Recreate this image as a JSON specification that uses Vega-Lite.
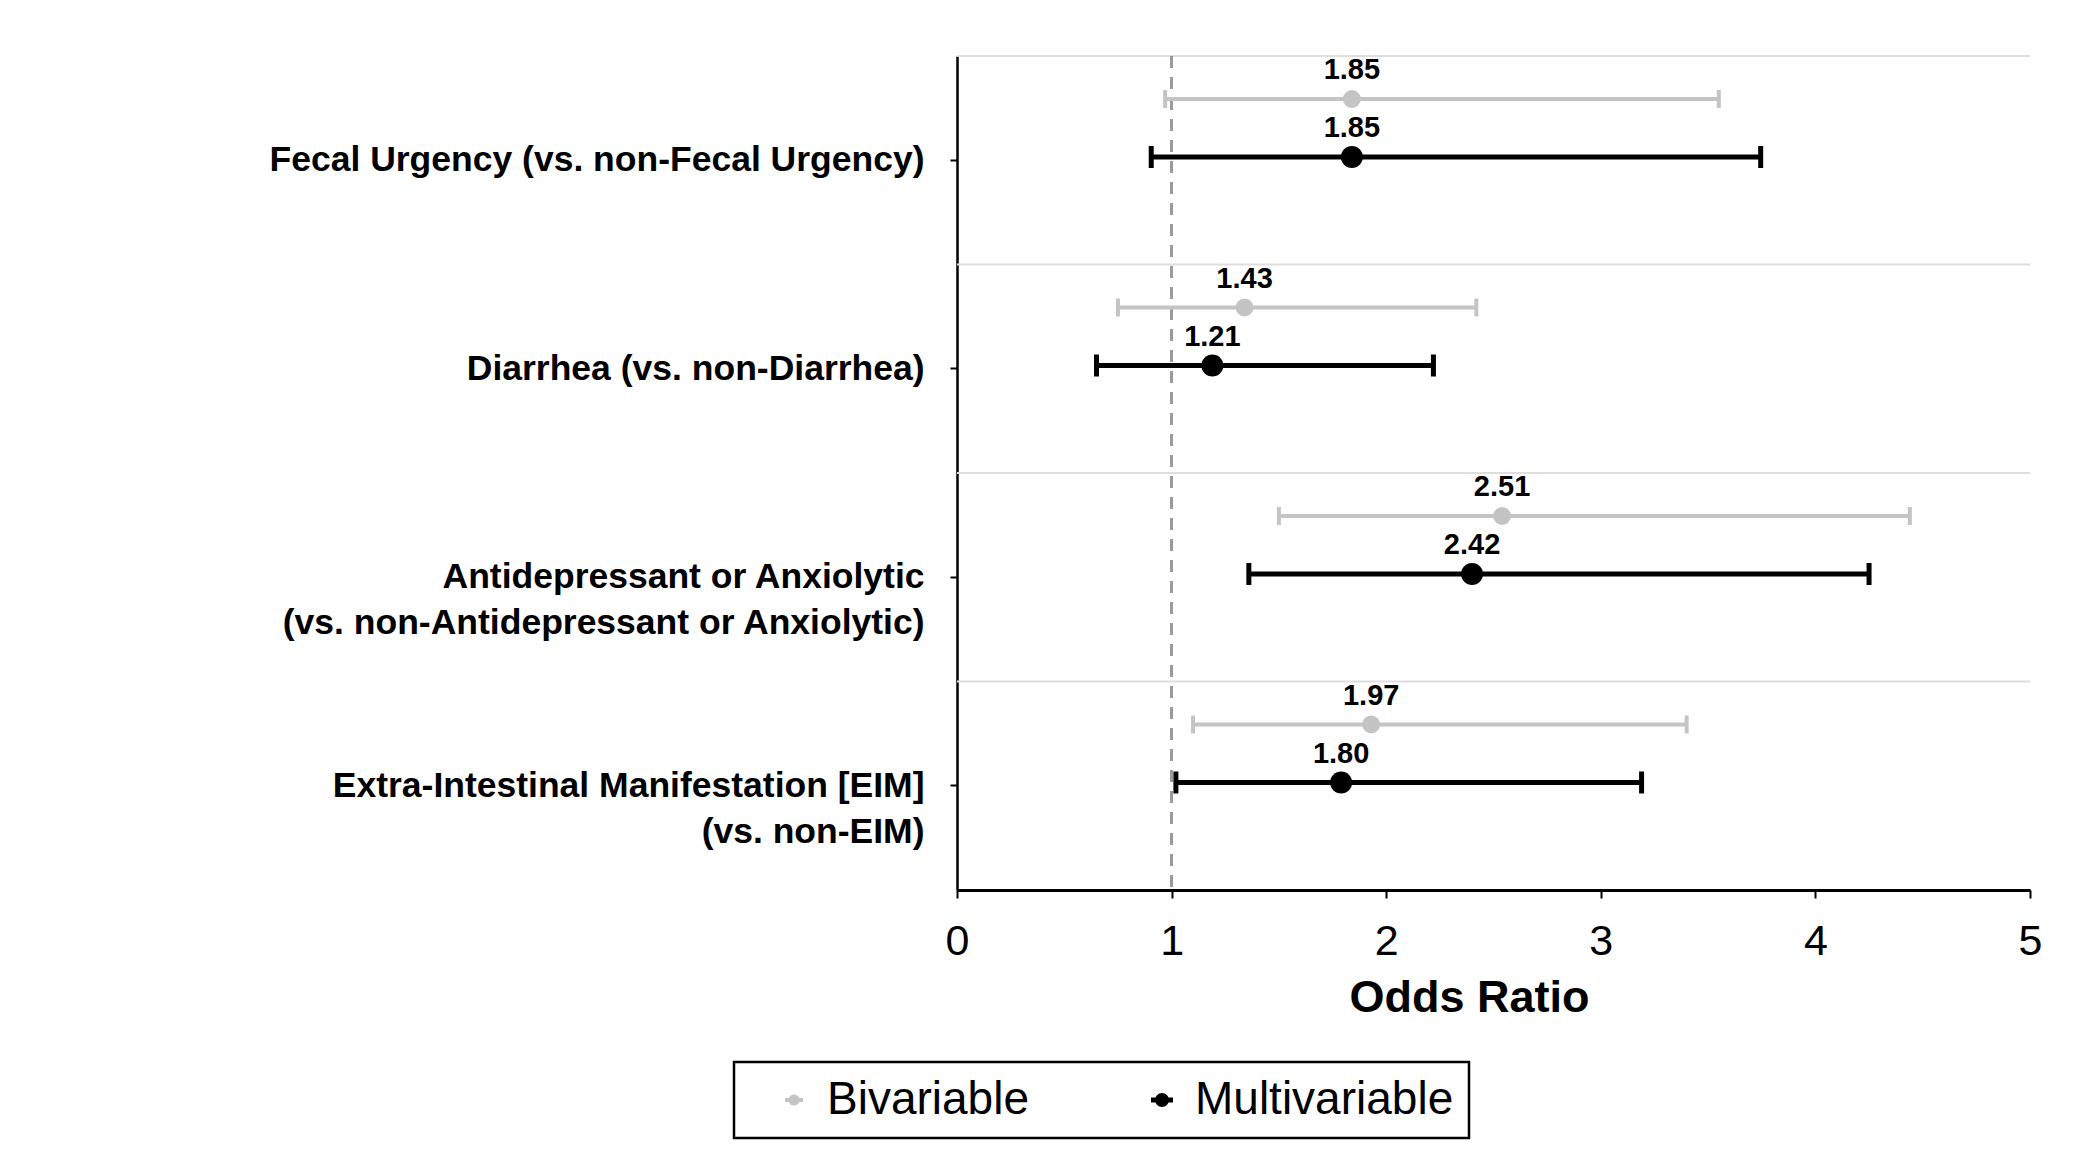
{
  "$schema": "https://vega.github.io/schema/vega-lite/v6.json",
  "width": 1073,
  "height": 834,
  "autosize": {"type": "none"},
  "padding": {"left": 957, "top": 56, "right": 70, "bottom": 266},
  "background": "white",
  "config": {"view": {"stroke": null}, "font": "Liberation Sans"},
  "data": {
    "values": [
      {"factor": "Fecal Urgency (vs. non-Fecal Urgency)", "model": "Bivariable", "or": 1.84, "lo": 0.97, "hi": 3.55, "label": "1.85"},
      {"factor": "Fecal Urgency (vs. non-Fecal Urgency)", "model": "Multivariable", "or": 1.84, "lo": 0.905, "hi": 3.745, "label": "1.85"},
      {"factor": "Diarrhea (vs. non-Diarrhea)", "model": "Bivariable", "or": 1.34, "lo": 0.75, "hi": 2.42, "label": "1.43"},
      {"factor": "Diarrhea (vs. non-Diarrhea)", "model": "Multivariable", "or": 1.19, "lo": 0.65, "hi": 2.22, "label": "1.21"},
      {"factor": "Antidepressant or Anxiolytic|(vs. non-Antidepressant or Anxiolytic)", "model": "Bivariable", "or": 2.54, "lo": 1.50, "hi": 4.44, "label": "2.51"},
      {"factor": "Antidepressant or Anxiolytic|(vs. non-Antidepressant or Anxiolytic)", "model": "Multivariable", "or": 2.40, "lo": 1.36, "hi": 4.25, "label": "2.42"},
      {"factor": "Extra-Intestinal Manifestation [EIM]|(vs. non-EIM)", "model": "Bivariable", "or": 1.93, "lo": 1.10, "hi": 3.40, "label": "1.97"},
      {"factor": "Extra-Intestinal Manifestation [EIM]|(vs. non-EIM)", "model": "Multivariable", "or": 1.79, "lo": 1.02, "hi": 3.19, "label": "1.80"}
    ]
  },
  "layer": [
    {
      "transform": [{"filter": "datum.model === 'Multivariable'"}],
      "mark": {"type": "rule", "color": "#dedede", "strokeWidth": 2},
      "encoding": {
        "y": {"field": "factor", "type": "nominal", "bandPosition": 0,
              "sort": ["Fecal Urgency (vs. non-Fecal Urgency)", "Diarrhea (vs. non-Diarrhea)", "Antidepressant or Anxiolytic|(vs. non-Antidepressant or Anxiolytic)", "Extra-Intestinal Manifestation [EIM]|(vs. non-EIM)"],
              "scale": {"paddingInner": 0, "paddingOuter": 0},
              "axis": {
                "title": null, "grid": false,
                "domainColor": "black", "domainWidth": 2.5,
                "tickColor": "black", "tickSize": 7, "tickWidth": 2,
                "labelFontSize": 35.5, "labelFontWeight": "bold", "labelColor": "black",
                "labelPadding": 26, "labelLimit": 900, "labelLineHeight": 46,
                "labelExpr": "split(datum.value, '|')"
              }}
      }
    },
    {
      "mark": {"type": "rule", "color": "#9a9a9a", "strokeWidth": 2.5, "strokeDash": [12, 9]},
      "encoding": {"x": {"datum": 1, "type": "quantitative"}}
    },
    {
      "mark": {"type": "rule"},
      "encoding": {
        "y": {"field": "factor", "type": "nominal", "sort": ["Fecal Urgency (vs. non-Fecal Urgency)", "Diarrhea (vs. non-Diarrhea)", "Antidepressant or Anxiolytic|(vs. non-Antidepressant or Anxiolytic)", "Extra-Intestinal Manifestation [EIM]|(vs. non-EIM)"]},
        "yOffset": {"field": "model", "type": "nominal", "scale": {"type": "point", "domain": ["Bivariable", "Multivariable"], "range": [43, 101], "padding": 0}},
        "x": {"field": "lo", "type": "quantitative",
              "scale": {"domain": [0, 5], "nice": false},
              "axis": {
                "title": "Odds Ratio", "titleFontSize": 45, "titleFontWeight": "bold", "titleColor": "black", "titlePadding": 12,
                "titleX": 512, "titleAlign": "center",
                "values": [0, 1, 2, 3, 4, 5], "format": "d", "labelFontSize": 43, "labelColor": "black", "labelPadding": 22, "labelFlush": false,
                "tickColor": "black", "tickSize": 8, "tickWidth": 2,
                "domainColor": "black", "domainWidth": 3, "grid": false
              }},
        "x2": {"field": "hi"},
        "color": {"field": "model", "type": "nominal", "scale": {"domain": ["Bivariable", "Multivariable"], "range": ["#c4c4c4", "#000000"]},
          "legend": {
            "orient": "none", "legendX": -223, "legendY": 1006,
            "direction": "horizontal", "columns": 2, "title": null,
            "labelFontSize": 46, "labelColor": "black", "labelFont": "Liberation Sans", "labelLimit": 600,
            "strokeColor": "black", "padding": 15,
            "symbolType": "M-1,0H1M-0.4,0A0.4,0.4 0 1,1 0.4,0A0.4,0.4 0 1,1 -0.4,0Z",
            "symbolSize": 2500, "symbolStrokeWidth": 4, "symbolOffset": 22,
            "labelOffset": 10, "columnPadding": 88,
            "encode": {
              "symbols": {"update": {"stroke": {"scale": "color", "field": "value"}, "fill": {"scale": "color", "field": "value"}, "strokeWidth": {"value": 4}, "opacity": {"value": 1}}},
              "legend": {"update": {"strokeWidth": {"value": 2.5}}}
            }
          }},
        "strokeWidth": {"field": "model", "type": "nominal", "scale": {"domain": ["Bivariable", "Multivariable"], "range": [4, 5]}, "legend": null}
      }
    },
    {
      "mark": {"type": "point", "shape": "M0,-1V1", "filled": false, "opacity": 1},
      "encoding": {
        "y": {"field": "factor", "type": "nominal", "sort": ["Fecal Urgency (vs. non-Fecal Urgency)", "Diarrhea (vs. non-Diarrhea)", "Antidepressant or Anxiolytic|(vs. non-Antidepressant or Anxiolytic)", "Extra-Intestinal Manifestation [EIM]|(vs. non-EIM)"]},
        "yOffset": {"field": "model", "type": "nominal"},
        "x": {"field": "lo", "type": "quantitative"},
        "color": {"field": "model", "type": "nominal"},
        "size": {"field": "model", "type": "nominal", "scale": {"domain": ["Bivariable", "Multivariable"], "range": [324, 484]}, "legend": null},
        "strokeWidth": {"field": "model", "type": "nominal", "legend": null}
      }
    },
    {
      "mark": {"type": "point", "shape": "M0,-1V1", "filled": false, "opacity": 1},
      "encoding": {
        "y": {"field": "factor", "type": "nominal", "sort": ["Fecal Urgency (vs. non-Fecal Urgency)", "Diarrhea (vs. non-Diarrhea)", "Antidepressant or Anxiolytic|(vs. non-Antidepressant or Anxiolytic)", "Extra-Intestinal Manifestation [EIM]|(vs. non-EIM)"]},
        "yOffset": {"field": "model", "type": "nominal"},
        "x": {"field": "hi", "type": "quantitative"},
        "color": {"field": "model", "type": "nominal"},
        "size": {"field": "model", "type": "nominal", "legend": null},
        "strokeWidth": {"field": "model", "type": "nominal", "legend": null}
      }
    },
    {
      "mark": {"type": "circle", "opacity": 1},
      "encoding": {
        "y": {"field": "factor", "type": "nominal", "sort": ["Fecal Urgency (vs. non-Fecal Urgency)", "Diarrhea (vs. non-Diarrhea)", "Antidepressant or Anxiolytic|(vs. non-Antidepressant or Anxiolytic)", "Extra-Intestinal Manifestation [EIM]|(vs. non-EIM)"]},
        "yOffset": {"field": "model", "type": "nominal"},
        "x": {"field": "or", "type": "quantitative"},
        "color": {"field": "model", "type": "nominal"},
        "size": {"field": "model", "type": "nominal", "scale": {"domain": ["Bivariable", "Multivariable"], "range": [200, 290]}, "legend": null}
      }
    },
    {
      "mark": {"type": "text", "fontSize": 29, "fontWeight": "bold", "color": "black", "baseline": "middle", "dy": -29},
      "encoding": {
        "y": {"field": "factor", "type": "nominal", "sort": ["Fecal Urgency (vs. non-Fecal Urgency)", "Diarrhea (vs. non-Diarrhea)", "Antidepressant or Anxiolytic|(vs. non-Antidepressant or Anxiolytic)", "Extra-Intestinal Manifestation [EIM]|(vs. non-EIM)"]},
        "yOffset": {"field": "model", "type": "nominal"},
        "x": {"field": "or", "type": "quantitative"},
        "text": {"field": "label"}
      }
    }
  ]
}
